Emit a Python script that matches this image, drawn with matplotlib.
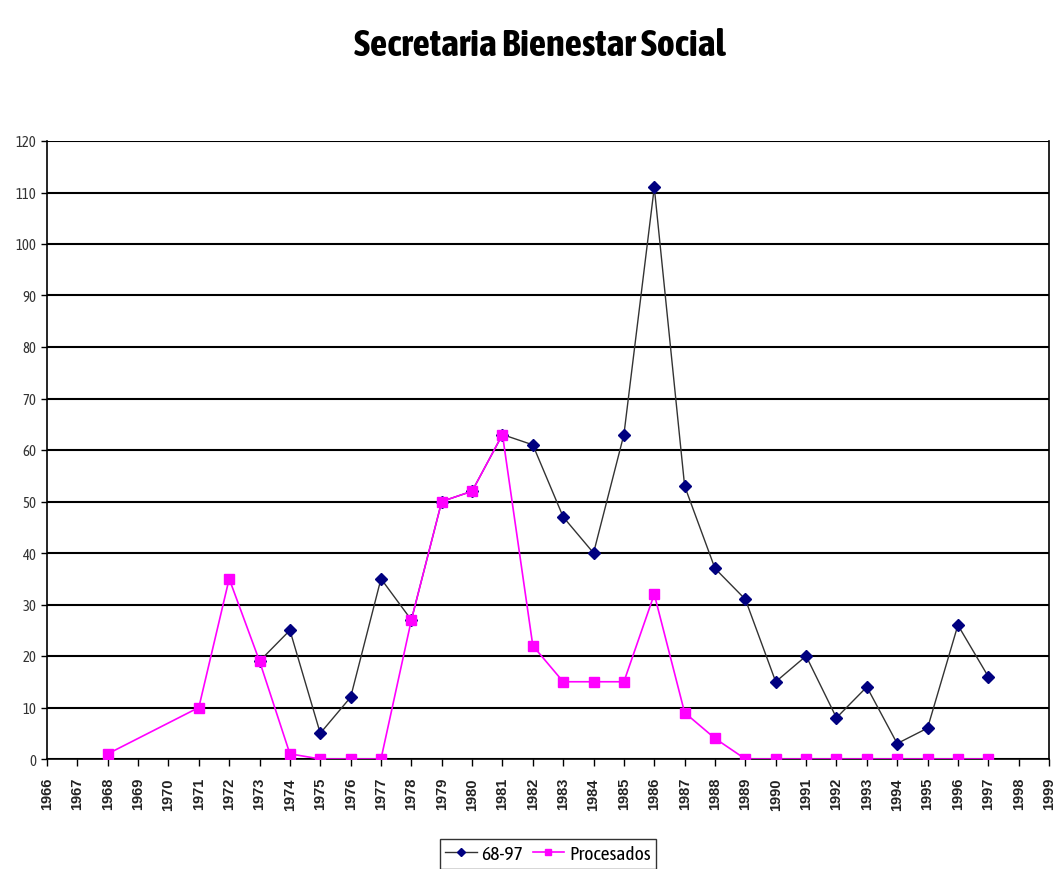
import matplotlib.pyplot as plt
import numpy as np
from matplotlib import font_manager

# look for a narrow / condensed face with a bold weight, like Arial Narrow
fonts = font_manager.fontManager.ttflist
cands = {}
for f in fonts:
    if 'Narrow' in f.name or 'Condensed' in f.name:
        w = f.weight if isinstance(f.weight, int) else 400
        cands.setdefault(f.name, set()).add(w)
narrow = None
for name, ws in sorted(cands.items()):
    if max(ws) >= 700 and min(ws) <= 400:
        narrow = name
        break
if narrow is None and cands:
    narrow = sorted(cands)[0]
if narrow is None:
    narrow = 'Liberation Sans'
plt.rcParams['font.family'] = [narrow, 'DejaVu Sans']

years = list(range(1966, 2000))

serie_years = list(range(1973, 1998))
serie_vals = [19, 25, 5, 12, 35, 27, 50, 52, 63, 61, 47, 40, 63, 111, 53, 37, 31,
              15, 20, 8, 14, 3, 6, 26, 16]

proc_years = [1968, 1971, 1972, 1973, 1974, 1975, 1976, 1977, 1978, 1979, 1980,
              1981, 1982, 1983, 1984, 1985, 1986, 1987, 1988, 1989, 1990, 1991,
              1992, 1993, 1994, 1995, 1996, 1997]
proc_vals = [1, 10, 35, 19, 1, 0, 0, 0, 27, 50, 52, 63, 22, 15, 15, 15, 32, 9, 4,
             0, 0, 0, 0, 0, 0, 0, 0, 0]

fig = plt.figure(figsize=(10.53, 8.70), dpi=100)
ax = fig.add_axes([47 / 1053, 1 - 760 / 870, 1002 / 1053, 618 / 870])

ax.plot(serie_years, serie_vals, color='#333333', lw=1.0, marker='D', ms=6,
        mfc='#000080', mec='#000080', label='68-97', zorder=3)
ax.plot(proc_years, proc_vals, color='#FF00FF', lw=1.2, marker='s', ms=7,
        mfc='#FF00FF', mec='#FF00FF', label='Procesados', zorder=4)

ax.set_xlim(1966, 1999)
ax.set_ylim(0, 120)
ax.set_yticks(np.arange(0, 121, 10))
ax.set_xticks(years)
ax.set_xticklabels([str(y) for y in years], rotation=90, fontsize=10.5,
                   fontweight='bold', color='#222222',
                   family=['Liberation Sans', 'DejaVu Sans'])
ax.tick_params(axis='y', labelsize=10.5, length=4, width=1, labelcolor='#333333')
ax.tick_params(axis='x', length=5, width=1, pad=8)
ax.yaxis.grid(True, color='black', lw=1.5)
ax.set_axisbelow(True)
for s in ax.spines.values():
    s.set_color('black')
    s.set_linewidth(1.2)
ax.spines['top'].set_visible(False)

fig.text(0.513, 1 - 46 / 870, 'Secretaria Bienestar Social', ha='center',
         va='center', fontsize=27.5, fontweight='bold')

leg = fig.legend(loc='center', bbox_to_anchor=(548 / 1053, 1 - 855 / 870), ncol=2,
                 fontsize=14, frameon=True, fancybox=False, edgecolor='black',
                 handlelength=1.6, handletextpad=0.25, columnspacing=0.5,
                 borderpad=0.3, borderaxespad=0, markerscale=0.7)
leg.get_frame().set_linewidth(1.0)

fig.savefig('out.png', dpi=100)
